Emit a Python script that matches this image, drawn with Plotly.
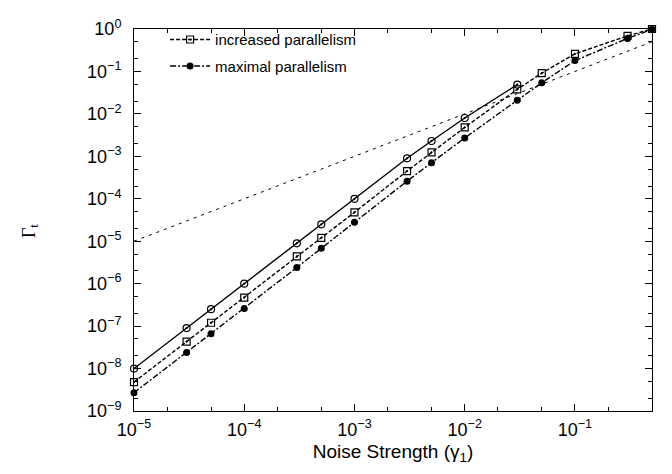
import plotly.graph_objects as go

# Data
gamma_circ = [1e-5, 3e-5, 5e-5, 1e-4, 3e-4, 5e-4, 1e-3, 3e-3, 5e-3, 1e-2, 3e-2]
circ_vals = [1.0e-8, 9.0e-8, 2.5e-7, 1.0e-6, 8.9e-6, 2.5e-5, 1.0e-4, 9.0e-4, 2.3e-3, 8.0e-3, 4.9e-2]

gamma_all = [1e-5, 3e-5, 5e-5, 1e-4, 3e-4, 5e-4, 1e-3, 3e-3, 5e-3, 1e-2, 3e-2, 5e-2, 1e-1, 3e-1, 5e-1]
increased_vals = [4.8e-9, 4.3e-8, 1.2e-7, 4.7e-7, 4.4e-6, 1.2e-5, 4.8e-5, 4.5e-4, 1.24e-3, 4.8e-3,
                  3.8e-2, 9.1e-2, 0.26, 0.69, 1.0]
maximal_vals = [2.7e-9, 2.4e-8, 6.6e-8, 2.6e-7, 2.4e-6, 6.8e-6, 2.8e-5, 2.6e-4, 7.1e-4, 2.7e-3,
                2.1e-2, 5.4e-2, 0.18, 0.6, 0.98]

gamma_ref = [1e-5, 0.5]
ref_vals = [1e-5, 0.5]

x_tickvals = [1e-5, 1e-4, 1e-3, 1e-2, 1e-1]
x_ticktext = ["10<sup>−5</sup>", "10<sup>−4</sup>", "10<sup>−3</sup>", "10<sup>−2</sup>", "10<sup>−1</sup>"]
y_tickvals = [1e-9, 1e-8, 1e-7, 1e-6, 1e-5, 1e-4, 1e-3, 1e-2, 1e-1, 1]
y_ticktext = ["10<sup>−9</sup>", "10<sup>−8</sup>", "10<sup>−7</sup>", "10<sup>−6</sup>", "10<sup>−5</sup>",
              "10<sup>−4</sup>", "10<sup>−3</sup>", "10<sup>−2</sup>", "10<sup>−1</sup>", "10<sup>0</sup>"]

fig = go.Figure()

fig.add_trace(go.Scatter(
    x=gamma_ref, y=ref_vals, mode="lines", showlegend=False,
    line=dict(color="black", width=1, dash="3px,5px")))

fig.add_trace(go.Scatter(
    x=gamma_circ, y=circ_vals, mode="lines+markers", showlegend=False, cliponaxis=False,
    line=dict(color="black", width=1.4),
    marker=dict(symbol="circle-open-dot", size=7, color="black", line=dict(width=1.2))))

fig.add_trace(go.Scatter(
    x=gamma_all, y=increased_vals, mode="lines+markers", name="increased parallelism",
    legendgroup="a", cliponaxis=False,
    line=dict(color="black", width=1.4, dash="4px,2px"),
    marker=dict(symbol="square-open-dot", size=7, color="black", line=dict(width=1.2))))

fig.add_trace(go.Scatter(
    x=gamma_all, y=maximal_vals, mode="lines+markers", name="maximal parallelism",
    legendgroup="b", cliponaxis=False,
    line=dict(color="black", width=1.4, dash="6px,2px,2px,2px"),
    marker=dict(symbol="circle", size=7, color="black")))

tick_font = dict(family="Liberation Sans, Arial, sans-serif", size=18, color="black")

axis_common = dict(
    type="log", showgrid=False, zeroline=False, showline=True, linecolor="black", linewidth=1,
    mirror="allticks", ticks="inside", ticklen=7, tickcolor="black",
    tickfont=tick_font, ticklabeloverflow="allow",
    minor=dict(ticks="inside", ticklen=4, dtick="D2", tickcolor="black", showgrid=False),
)

fig.update_xaxes(range=[-5, -0.301], tickvals=x_tickvals, ticktext=x_ticktext,
                 ticklabelstandoff=2,
                 title=dict(text="Noise Strength (γ<sub>1</sub>)", standoff=6,
                            font=dict(family="Liberation Sans, Arial, sans-serif", size=19, color="black")),
                 **axis_common)
fig.update_yaxes(range=[-9, 0], tickvals=y_tickvals, ticktext=y_ticktext,
                 ticklabelstandoff=8, **axis_common)

fig.add_annotation(text="Γ<sub>t</sub>", xref="paper", yref="paper", x=-0.2, y=0.472,
                   xanchor="center", yanchor="middle",
                   showarrow=False, textangle=-90,
                   font=dict(family="Liberation Serif, DejaVu Serif, serif", size=18, color="black"))

# page body has an 8px default margin; compensate so plot frame lands at 134..652 x 17..411
fig.update_layout(
    width=664, height=466,
    margin=dict(l=126, r=20, t=9, b=63),
    paper_bgcolor="white", plot_bgcolor="white",
    legend=dict(x=0.06, y=1.015, xanchor="left", yanchor="top", bgcolor="rgba(0,0,0,0)",
                font=dict(family="Liberation Sans, Arial, sans-serif", size=15, color="black"),
                tracegroupgap=4, itemwidth=40),
)

fig.write_html("out.html")
